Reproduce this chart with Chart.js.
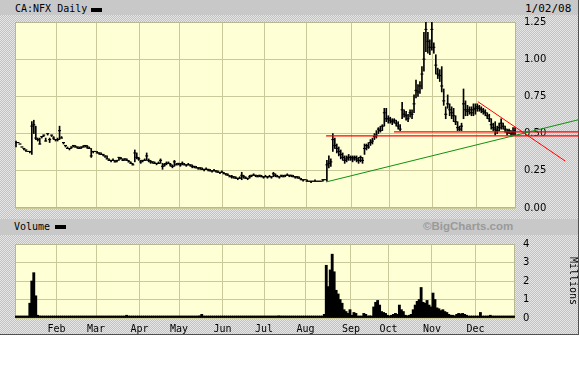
<!DOCTYPE html>
<html><head><meta charset="utf-8">
<script src="https://cdn.jsdelivr.net/npm/chart.js@4.4.1/dist/chart.umd.min.js"></script>
<style>
html,body{margin:0;padding:0;background:#fff;}
#frame{position:absolute;left:0;top:0;width:578px;height:334px;border-right:1px solid #505050;border-bottom:1px solid #505050;background:repeating-conic-gradient(#c2c2c2 0% 25%, #e6e6e6 0% 50%) 0 0/2px 2px;}
.band{position:absolute;left:0;width:578px;background:#c8c8c8}
.t{position:absolute;font-family:"DejaVu Sans Mono",monospace;font-size:10px;line-height:10px;color:#000;white-space:nowrap}
.box{position:absolute;background:#000}
canvas{position:absolute;left:0}
</style></head>
<body>
<div id="frame"></div>
<div class="band" style="top:0;height:15px"></div>
<div class="t" style="left:15px;top:4px">CA:NFX Daily</div>
<div class="box" style="left:91px;top:8px;width:11px;height:4px"></div>
<div class="t" style="left:525px;top:4px;font-size:11px">1/02/08</div>
<div class="band" style="top:219px;height:16px"></div>
<div class="t" style="left:14px;top:222px">Volume</div>
<div class="box" style="left:55px;top:225px;width:11px;height:4px"></div>
<div class="t" style="left:423px;top:220px;font-family:'Liberation Sans',Arial,sans-serif;font-weight:bold;font-size:11.5px;line-height:12px;color:#9a9a9a">©BigCharts.com</div>
<canvas id="main" width="579" height="222" style="top:0"></canvas>
<canvas id="vol" width="579" height="105" style="top:230px"></canvas>
<script>
// Month labels and first trading-day index of each month
const monthNames = ["Feb","Mar","Apr","May","Jun","Jul","Aug","Sep","Oct","Nov","Dec"];
const monthStarts = [21,41,63,83,105,126,147,170,189,211,233];
const dayCount = 253;
const priceTicks = [0,0.25,0.5,0.75,1.0,1.25];
const volTicks = [0,1,2,3,4];

const close = [
 0.44,0.44,0.43,0.41,0.40,0.39,0.38,0.38,0.55,0.56,0.47,0.46,0.43,0.48,0.49,0.45,0.50,0.46,0.49,0.47,0.46,
 0.46,0.52,0.47,0.44,0.42,0.40,0.40,0.41,0.42,0.41,0.41,0.40,0.41,0.41,0.42,0.41,0.40,0.35,0.38,0.38,
 0.37,0.37,0.36,0.36,0.35,0.33,0.32,0.32,0.32,0.31,0.32,0.34,0.33,0.32,0.33,0.32,0.31,0.30,0.29,0.37,0.34,0.33,
 0.31,0.32,0.32,0.35,0.32,0.31,0.31,0.30,0.30,0.30,0.32,0.28,0.29,0.30,0.30,0.29,0.28,0.31,0.29,0.30,
 0.29,0.30,0.29,0.29,0.29,0.29,0.28,0.28,0.27,0.27,0.27,0.26,0.26,0.26,0.26,0.25,0.25,0.25,0.25,0.24,0.24,0.24,
 0.23,0.23,0.22,0.21,0.21,0.21,0.20,0.20,0.20,0.22,0.21,0.20,0.20,0.21,0.22,0.22,0.22,0.21,0.22,0.21,0.21,
 0.21,0.21,0.21,0.21,0.23,0.22,0.21,0.21,0.22,0.21,0.22,0.22,0.22,0.22,0.21,0.21,0.21,0.20,0.19,0.19,0.19,
 0.18,0.18,0.18,0.18,0.18,0.18,0.18,0.18,0.19,0.19,0.29,0.30,0.31,0.46,0.42,0.40,0.38,0.36,0.34,0.32,0.33,0.34,0.34,
 0.33,0.34,0.33,0.32,0.34,0.32,0.40,0.42,0.41,0.44,0.45,0.48,0.49,0.53,0.52,0.55,0.64,0.60,0.60,
 0.59,0.58,0.59,0.57,0.55,0.53,0.66,0.63,0.62,0.60,0.64,0.63,0.70,0.79,0.78,0.82,0.90,1.00,1.20,1.12,1.08,1.20,
 1.08,0.96,0.90,0.89,0.82,0.72,0.63,0.70,0.66,0.64,0.62,0.58,0.54,0.53,0.55,0.70,0.66,0.65,0.66,0.64,0.66,0.67,
 0.68,0.67,0.66,0.65,0.64,0.62,0.60,0.56,0.54,0.53,0.52,0.54,0.57,0.55,0.53,0.51,0.52,0.50,0.51,0.52
];
const high = [
 0.45,0.44,0.43,0.41,0.40,0.39,0.38,0.38,0.58,0.59,0.55,0.47,0.47,0.48,0.49,0.47,0.50,0.47,0.49,0.48,0.46,
 0.47,0.55,0.48,0.44,0.42,0.41,0.40,0.41,0.42,0.42,0.41,0.41,0.41,0.42,0.42,0.42,0.41,0.40,0.38,0.38,
 0.38,0.37,0.37,0.36,0.35,0.35,0.33,0.32,0.33,0.32,0.32,0.34,0.34,0.33,0.33,0.33,0.32,0.31,0.30,0.39,0.37,0.34,
 0.32,0.32,0.33,0.37,0.33,0.32,0.31,0.31,0.30,0.31,0.33,0.30,0.30,0.31,0.31,0.30,0.29,0.32,0.30,0.30,
 0.30,0.31,0.30,0.29,0.30,0.29,0.29,0.28,0.28,0.27,0.27,0.27,0.26,0.27,0.26,0.26,0.25,0.26,0.25,0.25,0.24,0.25,
 0.24,0.23,0.23,0.22,0.22,0.21,0.21,0.20,0.21,0.24,0.22,0.21,0.20,0.22,0.22,0.23,0.22,0.22,0.22,0.22,0.21,
 0.22,0.21,0.22,0.21,0.24,0.23,0.22,0.21,0.22,0.22,0.22,0.23,0.22,0.22,0.22,0.21,0.21,0.21,0.20,0.19,0.19,
 0.19,0.18,0.18,0.18,0.19,0.18,0.18,0.18,0.19,0.19,0.32,0.35,0.33,0.50,0.47,0.43,0.41,0.39,0.37,0.35,0.35,0.36,0.35,
 0.35,0.35,0.35,0.34,0.35,0.34,0.43,0.43,0.44,0.46,0.47,0.50,0.52,0.54,0.55,0.56,0.67,0.67,0.62,
 0.61,0.60,0.60,0.59,0.58,0.56,0.71,0.66,0.65,0.63,0.66,0.66,0.76,0.86,0.83,0.85,0.95,1.18,1.26,1.18,1.13,1.26,
 1.11,1.03,0.94,0.93,0.95,0.80,0.68,0.76,0.70,0.68,0.67,0.62,0.58,0.55,0.57,0.80,0.72,0.69,0.68,0.68,0.70,0.70,
 0.70,0.69,0.68,0.67,0.66,0.64,0.63,0.60,0.57,0.58,0.55,0.57,0.60,0.57,0.55,0.53,0.53,0.52,0.54,0.54
];
const low = [
 0.41,0.44,0.43,0.41,0.39,0.38,0.38,0.37,0.36,0.50,0.46,0.45,0.43,0.47,0.48,0.45,0.49,0.44,0.48,0.46,0.45,
 0.45,0.46,0.47,0.43,0.41,0.40,0.39,0.40,0.41,0.41,0.40,0.40,0.40,0.41,0.41,0.40,0.40,0.34,0.37,0.38,
 0.37,0.36,0.36,0.35,0.34,0.33,0.32,0.31,0.32,0.31,0.31,0.32,0.33,0.32,0.32,0.32,0.31,0.30,0.29,0.31,0.33,0.32,
 0.30,0.31,0.32,0.32,0.31,0.30,0.30,0.30,0.29,0.30,0.30,0.26,0.28,0.29,0.30,0.28,0.27,0.28,0.29,0.29,
 0.28,0.29,0.29,0.28,0.29,0.28,0.27,0.27,0.27,0.26,0.26,0.26,0.25,0.26,0.25,0.25,0.24,0.25,0.24,0.24,0.23,0.24,
 0.23,0.22,0.22,0.21,0.20,0.20,0.20,0.19,0.20,0.19,0.20,0.20,0.19,0.20,0.21,0.22,0.21,0.21,0.21,0.21,0.20,
 0.21,0.20,0.21,0.20,0.21,0.21,0.21,0.20,0.21,0.21,0.21,0.22,0.21,0.21,0.21,0.20,0.20,0.20,0.19,0.18,0.19,
 0.18,0.18,0.17,0.18,0.18,0.18,0.18,0.18,0.18,0.19,0.18,0.27,0.28,0.38,0.40,0.37,0.35,0.33,0.32,0.30,0.31,0.32,0.32,
 0.31,0.32,0.31,0.30,0.31,0.30,0.36,0.39,0.40,0.42,0.43,0.46,0.47,0.50,0.51,0.52,0.55,0.58,0.57,
 0.57,0.56,0.57,0.55,0.53,0.52,0.60,0.61,0.59,0.58,0.61,0.60,0.64,0.74,0.75,0.77,0.80,0.92,1.05,1.04,1.03,1.06,
 1.04,0.90,0.87,0.85,0.78,0.69,0.60,0.67,0.62,0.60,0.58,0.56,0.52,0.52,0.52,0.60,0.62,0.62,0.63,0.62,0.62,0.63,
 0.65,0.65,0.64,0.63,0.62,0.60,0.58,0.53,0.52,0.49,0.50,0.52,0.53,0.53,0.51,0.49,0.50,0.49,0.49,0.49
];
// Volume in millions
const volume = [
 0.02,0.01,0.02,0.03,0.02,0.05,0.10,0.80,2.00,2.45,1.20,0.15,0.05,0.02,0.03,0.08,0.06,0.02,0.03,0.05,0.02,
 0.02,0.04,0.02,0.01,0.02,0.02,0.03,0.02,0.01,0.02,0.02,0.01,0.02,0.03,0.02,0.01,0.02,0.05,0.02,0.02,
 0.02,0.01,0.02,0.02,0.01,0.02,0.03,0.02,0.01,0.02,0.02,0.01,0.02,0.02,0.01,0.15,0.10,0.02,0.01,0.04,0.02,0.01,
 0.02,0.01,0.02,0.03,0.02,0.02,0.06,0.02,0.01,0.02,0.01,0.02,0.02,0.01,0.02,0.02,0.01,0.03,0.02,0.01,
 0.02,0.01,0.02,0.02,0.01,0.02,0.03,0.02,0.01,0.02,0.12,0.20,0.04,0.02,0.01,0.02,0.01,0.02,0.02,0.01,0.02,0.02,
 0.01,0.02,0.02,0.01,0.02,0.02,0.01,0.05,0.03,0.02,0.01,0.02,0.02,0.01,0.02,0.02,0.01,0.03,0.02,0.04,0.02,
 0.02,0.03,0.02,0.05,0.08,0.03,0.02,0.12,0.04,0.06,0.02,0.05,0.02,0.03,0.02,0.04,0.03,0.02,0.01,0.02,0.02,
 0.02,0.05,0.02,0.03,0.08,0.02,0.05,0.02,0.03,0.20,2.85,1.70,2.60,3.45,2.50,1.50,1.30,1.00,0.80,0.45,0.35,0.25,0.45,
 0.15,0.30,0.25,0.10,0.08,0.10,0.25,0.20,0.10,0.12,0.10,0.60,0.85,0.95,0.70,0.35,0.30,0.25,0.15,
 0.12,0.15,0.20,0.25,0.20,0.70,0.45,0.35,0.15,0.12,0.15,0.20,0.45,0.70,0.90,1.00,1.65,0.85,0.80,0.95,0.70,0.60,
 1.35,1.00,0.55,0.50,0.40,0.45,0.35,0.30,0.20,0.15,0.15,0.12,0.20,0.25,0.22,0.25,0.20,0.15,0.05,0.05,0.04,0.03,
 0.03,0.10,0.30,0.05,0.04,0.03,0.05,0.15,0.10,0.05,0.03,0.02,0.04,0.03,0.02,0.05,0.03,0.02,0.03,0.02
];
// Trend lines: [startIndex, startValue, endIndex, endValue]
const greenLine = [157.1, 0.175, 284.8, 0.594];
const redFlat1  = [157.1, 0.485, 284.8, 0.485];
const redFlat2  = [191.4, 0.512, 284.8, 0.512];
const redDiag   = [233.7, 0.715, 277.8, 0.316];

const gridColor = '#c9c99a';
const monoFont = {family:'"DejaVu Sans Mono", monospace', size:10};
const numFont = {family:'"DejaVu Sans", sans-serif', size:10};

const plotBg = {
  id:'plotBg',
  beforeDraw(c){const {ctx,chartArea:a}=c;ctx.save();ctx.fillStyle='#ffffd6';ctx.fillRect(a.left,a.top,a.right-a.left,a.bottom-a.top);ctx.restore();},
  beforeDatasetsDraw(c){const {ctx,chartArea:a}=c;ctx.save();ctx.strokeStyle='#b8b894';ctx.lineWidth=1;ctx.strokeRect(a.left+0.5,a.top+0.5,a.right-a.left-1,a.bottom-a.top-1);ctx.restore();}
};

function monthTicks(scale){ scale.ticks = monthStarts.map(v=>({value:v})); }
const idx = i => i + 0.5;

function trend(seg,color,width){
  return {type:'line',data:[{x:seg[0],y:seg[1]},{x:seg[2],y:seg[3]}],borderColor:color,borderWidth:width,pointRadius:0,clip:false,order:0};
}

new Chart(document.getElementById('main'),{
  type:'bar',
  data:{datasets:[
    {type:'bar',data:close.map((c,i)=>({x:idx(i),y:[low[i],high[i]]})),backgroundColor:'#000',barThickness:1,order:2},
    {type:'line',data:close.map((c,i)=>({x:idx(i),y:c})),showLine:false,pointStyle:'line',pointRadius:1.5,pointBorderWidth:1.1,pointBorderColor:'#000',pointBackgroundColor:'#000',order:1},
    trend(greenLine,'#109010',1),
    trend(redFlat1,'#ff0000',1.2),
    trend(redFlat2,'#ff0000',1.2),
    trend(redDiag,'#ff0000',1)
  ]},
  options:{
    responsive:false,animation:false,devicePixelRatio:1,
    layout:{padding:{left:15,top:22,right:0,bottom:1}},
    plugins:{legend:{display:false},tooltip:{enabled:false}},
    scales:{
      x:{type:'linear',min:0,max:dayCount,offset:false,
         grid:{color:gridColor,drawTicks:false,offset:false},border:{display:false},
         ticks:{display:false},afterBuildTicks:monthTicks,afterFit(s){s.height=0;}},
      y:{position:'right',min:0,max:1.25,
         afterBuildTicks(s){s.ticks=priceTicks.map(v=>({value:v}));},
         grid:{color:gridColor,drawTicks:false},border:{display:false},
         ticks:{padding:8,color:'#000',font:numFont,callback:v=>v.toFixed(2)},
         afterFit(s){s.width=63;}}
    }
  },
  plugins:[plotBg]
});

new Chart(document.getElementById('vol'),{
  type:'bar',
  data:{datasets:[
    {data:volume.map((v,i)=>({x:idx(i),y:v})),backgroundColor:'#000',barPercentage:1,categoryPercentage:1,barThickness:2.2,minBarLength:2}
  ]},
  options:{
    responsive:false,animation:false,devicePixelRatio:1,
    layout:{padding:{left:15,top:0,right:0,bottom:0}},
    plugins:{legend:{display:false},tooltip:{enabled:false}},
    scales:{
      x:{type:'linear',min:0,max:dayCount,offset:false,
         grid:{color:gridColor,drawTicks:false,offset:false},border:{display:false},
         afterBuildTicks:monthTicks,
         ticks:{autoSkip:false,maxRotation:0,padding:5,color:'#000',font:monoFont,
                callback:v=>{const k=monthStarts.indexOf(v);return k>=0?monthNames[k]:'';}},
         afterFit(s){s.height=17;}},
      y:{position:'right',min:0,max:4,
         afterBuildTicks(s){s.ticks=volTicks.map(v=>({value:v}));},
         grid:{color:gridColor,drawTicks:false},border:{display:false},
         ticks:{padding:8,color:'#000',font:numFont},
         title:{display:true,text:'Millions',color:'#000',font:monoFont,padding:{top:0,bottom:4}},
         afterFit(s){s.width=64;}}
    }
  },
  plugins:[plotBg]
});
</script>
</body></html>
